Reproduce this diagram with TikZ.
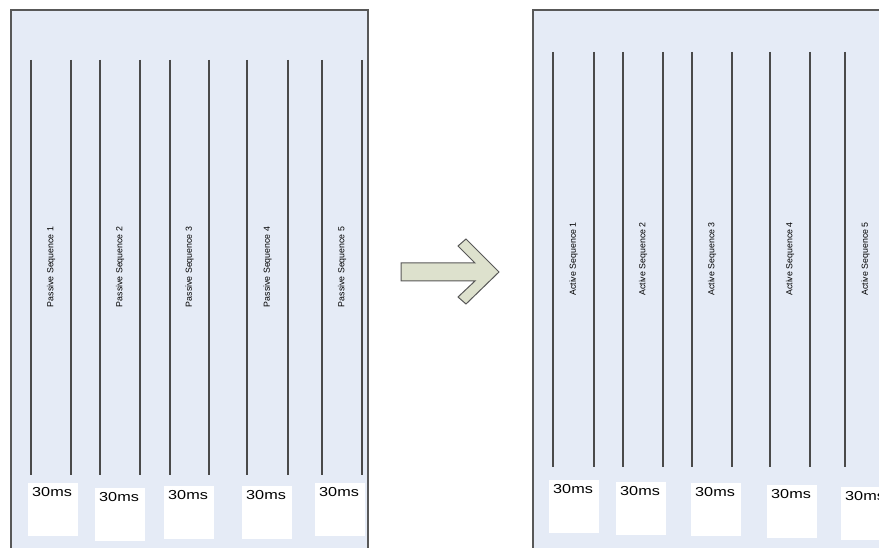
\documentclass[tikz,border=0pt]{standalone}
\usepackage{fontspec}
\setmainfont{Liberation Sans}
\newfontfamily\msfont[FakeStretch=1.25]{Liberation Sans}
\usetikzlibrary{positioning}
\definecolor{panelbg}{HTML}{E5EBF6}
\definecolor{framegray}{HTML}{585858}
\definecolor{seqgray}{HTML}{4A4A4A}
\definecolor{arrowfill}{HTML}{DDE1CD}
\tikzstyle{panel}=[draw=framegray, line width=1.3pt, fill=panelbg]
\tikzstyle{seqline}=[draw=seqgray, line width=1.6pt]
\tikzstyle{seqlabel}=[rotate=90, inner sep=0pt, font=\fontsize{8.8}{10}\selectfont]
\tikzstyle{timebox}=[fill=white, anchor=north west, text width=42pt, align=left,
  inner xsep=4pt, inner ysep=4pt, text height=9pt, text depth=36pt,
  font=\msfont\fontsize{13}{15}\selectfont]

\begin{document}
\begin{tikzpicture}[x=1pt,y=-1pt]
\clip (0,0) rectangle (879,548);
% passive side
\path[panel] (11,10) rectangle (368,560);
\foreach \xa/\xb/\n in {31/71/1, 100/140/2, 170/209/3, 247/288/4, 322/362/5} {
  \draw[seqline] (\xa,60) -- (\xa,475);
  \draw[seqline] (\xb,60) -- (\xb,475);
  \node[seqlabel] (pas\n) at ({(\xa+\xb)/2},267) {Passive Sequence \n};
}
\foreach \bx/\by/\n in {28/483/1, 95/488/2, 164/486/3, 242/486/4, 315/483/5}
  \node[timebox] (ptime\n) at (\bx,\by) {30ms};
% arrow
\draw[draw=framegray, line width=1pt, fill=arrowfill, line join=miter]
  (401,263) -- (475,263) -- (458,246) -- (466,239) -- (499,272)
  -- (466,304) -- (458,297) -- (475,281) -- (401,281) -- cycle;
% active side
\path[panel] (533,10) rectangle (900,560);
\foreach \xa/\xb/\n in {553/594/1, 623/663/2, 692/732/3, 770/810/4, 845/886/5} {
  \draw[seqline] (\xa,52) -- (\xa,467);
  \draw[seqline] (\xb,52) -- (\xb,467);
  \node[seqlabel] (act\n) at ({(\xa+\xb)/2},259) {Active Sequence \n};
}
\foreach \bx/\by/\n in {549/480/1, 616/482/2, 691/483/3, 767/485/4, 841/487/5}
  \node[timebox] (atime\n) at (\bx,\by) {30ms};
\end{tikzpicture}
\end{document}
